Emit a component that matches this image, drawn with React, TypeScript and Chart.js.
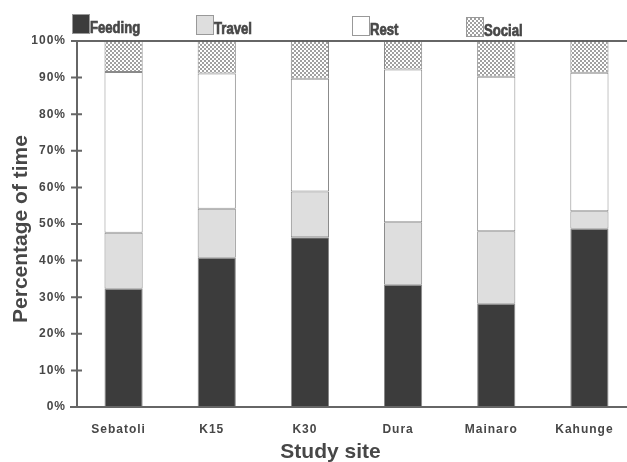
import React, { useEffect, useRef } from "react";
import { Chart, registerables } from "chart.js";

Chart.register(...registerables);

const categories = ["Sebatoli", "K15", "K30", "Dura", "Mainaro", "Kahunge"];
const seriesNames = ["Feeding", "Travel", "Rest", "Social"];
const feeding = [32.3, 40.8, 46.4, 33.4, 28.2, 48.7];
const travel = [15.3, 13.4, 12.5, 17.1, 19.8, 4.8];
const rest = [43.9, 36.9, 30.8, 41.7, 42.2, 37.8];
const social = [8.5, 8.9, 10.3, 7.8, 9.8, 8.7];
const yTickValues = [0, 10, 20, 30, 40, 50, 60, 70, 80, 90, 100];

const FONT = "'Liberation Sans', Arial, sans-serif";
const AXIS = "#666";
const TEXT = "#474747";

function makePattern(): CanvasPattern | string {
  const c = document.createElement("canvas");
  c.width = 4;
  c.height = 4;
  const g = c.getContext("2d");
  if (!g) return "#ccc";
  g.fillStyle = "#ffffff";
  g.fillRect(0, 0, 4, 4);
  g.fillStyle = "#a0a0a0";
  g.fillRect(0, 0, 2, 2);
  g.fillRect(2, 2, 2, 2);
  const p = g.createPattern(c, "repeat");
  return p || "#ccc";
}

export default function App() {
  const ref = useRef<HTMLCanvasElement | null>(null);

  useEffect(() => {
    const canvas = ref.current;
    if (!canvas) return;
    const pattern = makePattern();
    const fills: any[] = ["#3c3c3c", "#dedede", "#ffffff", pattern];
    const values = [feeding, travel, rest, social];

    const extras = {
      id: "extras",
      beforeDraw(chart: any) {
        chart.ctx.letterSpacing = "1px";
      },
      afterDraw(chart: any) {
        const ctx = chart.ctx as CanvasRenderingContext2D;
        const { left, right } = chart.chartArea;
        const y = chart.scales.y;
        ctx.save();
        (ctx as any).letterSpacing = "0px";
        ctx.strokeStyle = AXIS;
        ctx.lineWidth = 2;
        // y axis line
        ctx.beginPath();
        ctx.moveTo(left, y.getPixelForValue(100));
        ctx.lineTo(left, y.getPixelForValue(0));
        ctx.stroke();
        // top and bottom lines
        ctx.beginPath();
        ctx.moveTo(left - 6, y.getPixelForValue(100));
        ctx.lineTo(chart.width, y.getPixelForValue(100));
        ctx.moveTo(left - 7, y.getPixelForValue(0));
        ctx.lineTo(chart.width, y.getPixelForValue(0));
        ctx.stroke();
        // crossing tick marks
        ctx.beginPath();
        yTickValues.forEach((v) => {
          if (v === 0 || v === 100) return;
          const py = y.getPixelForValue(v);
          ctx.moveTo(left - 6, py);
          ctx.lineTo(left + 5, py);
        });
        ctx.stroke();

        // legend
        const legendX = [72, 196, 352, 466];
        ctx.textBaseline = "alphabetic";
        ctx.textAlign = "left";
        seriesNames.forEach((name, i) => {
          const bx = legendX[i];
          const by = 14 + i;
          ctx.fillStyle = fills[i];
          ctx.fillRect(bx, by, 17, 19);
          ctx.lineWidth = 1;
          ctx.strokeStyle = "#999";
          ctx.strokeRect(bx + 0.5, by + 0.5, 17, 19);
          ctx.save();
          ctx.translate(bx + 18, by + 19);
          ctx.scale(0.82, 1);
          ctx.font = `bold 16px ${FONT}`;
          ctx.fillStyle = TEXT;
          ctx.strokeStyle = TEXT;
          ctx.lineWidth = 0.7;
          ctx.fillText(name, 0, 0);
          ctx.strokeText(name, 0, 0);
          ctx.restore();
        });

        // axis titles
        ctx.fillStyle = TEXT;
        ctx.font = `bold 21px ${FONT}`;
        ctx.textAlign = "center";
        ctx.textBaseline = "alphabetic";
        ctx.fillText("Study site", (left + right) / 2 - 26, 458);
        ctx.translate(27, (y.top + y.bottom) / 2 + 5);
        ctx.rotate(-Math.PI / 2);
        ctx.fillText("Percentage of time", 0, 0);
        ctx.restore();
      },
    };

    const chart = new Chart(canvas, {
      type: "bar",
      data: {
        labels: categories,
        datasets: seriesNames.map((name, i) => ({
          label: name,
          data: values[i],
          backgroundColor: fills[i],
          borderColor: "#8a8a8a",
          borderWidth: 1,
          borderSkipped: false,
          barPercentage: 0.41,
          categoryPercentage: 1,
        })),
      },
      options: {
        responsive: false,
        animation: false,
        layout: { padding: { top: 41, right: 9, left: 0, bottom: 0 } },
        plugins: {
          legend: { display: false },
          tooltip: { enabled: false },
        },
        scales: {
          x: {
            stacked: true,
            grid: { display: false, drawTicks: false },
            border: { display: false },
            ticks: {
              color: TEXT,
              font: { family: FONT, size: 12, weight: "bold" },
              padding: 15,
              labelOffset: -5,
              maxRotation: 0,
            },
            afterFit(scale: any) {
              scale.height = 55;
            },
          },
          y: {
            stacked: true,
            min: 0,
            max: 100,
            grid: { display: false, drawTicks: false },
            border: { display: false },
            ticks: {
              stepSize: 10,
              color: TEXT,
              font: { family: FONT, size: 12, weight: "bold" },
              padding: 11,
              callback: (v: any) => `${v}%`,
            },
            afterFit(scale: any) {
              scale.width = 77;
            },
          },
        },
      },
      plugins: [extras],
    } as any);

    return () => chart.destroy();
  }, []);

  return (
    <div
      style={{
        position: "fixed",
        left: 0,
        top: 0,
        width: 627,
        height: 462,
        overflow: "hidden",
        background: "#fff",
      }}
    >
      <canvas ref={ref} width={645} height={462} style={{ width: 645, height: 462, display: "block" }} />
    </div>
  );
}
